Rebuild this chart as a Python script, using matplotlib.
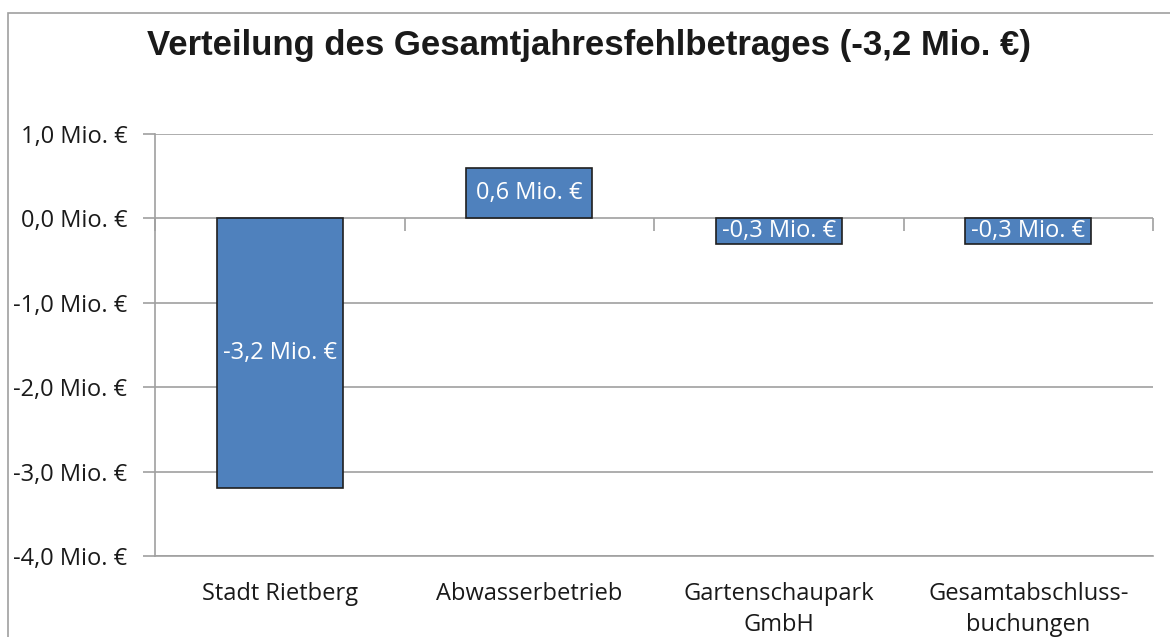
import matplotlib
matplotlib.use("Agg")
import matplotlib.pyplot as plt
from matplotlib.ticker import FuncFormatter, FixedLocator, NullFormatter
from matplotlib.patches import Rectangle

title = "Verteilung des Gesamtjahresfehlbetrages (-3,2 Mio. €)"
categories = ["Stadt Rietberg", "Abwasserbetrieb", "Gartenschaupark\nGmbH", "Gesamtabschluss-\nbuchungen"]
values = [-3.2, 0.6, -0.3, -0.3]
value_labels = ["-3,2 Mio. €", "0,6 Mio. €", "-0,3 Mio. €", "-0,3 Mio. €"]
y_ticks = [1.0, 0.0, -1.0, -2.0, -3.0, -4.0]

YMIN, YMAX = -4.0, 1.0
BAR = "#4F81BD"
GRID = "#A0A0A0"
FONT = "Open Sans"
FS = 17

fig = plt.figure(figsize=(11.7, 6.37), dpi=100)
fig.patch.set_facecolor("white")
# chart border (extends beyond the right / bottom edge)
fig.patches.append(Rectangle((8 / 1170, -0.05), 1.2, 1 - 12.5 / 637 + 0.05,
                             transform=fig.transFigure, fill=False,
                             edgecolor=GRID, linewidth=1.2))

ax = fig.add_axes([155 / 1170, 1 - 556 / 637, (1153 - 155) / 1170, (556 - 134) / 637])
x = list(range(len(categories)))
ax.bar(x, values, width=0.505, color=BAR, edgecolor="#1F1F1F", linewidth=1.2, zorder=3)
ax.set_xlim(-0.5, len(categories) - 0.5)
ax.set_ylim(YMIN, YMAX)

ax.yaxis.set_major_locator(FixedLocator(y_ticks))
ax.yaxis.set_major_formatter(FuncFormatter(lambda v, p: f"{v:.1f}".replace(".", ",") + " Mio. €"))
ax.grid(axis="y", color=GRID, linewidth=1.2, zorder=1)
ax.tick_params(axis="y", direction="out", length=9, width=1.2, color=GRID,
               labelsize=FS, labelcolor="#1a1a1a", pad=11)
for lab in ax.get_yticklabels():
    lab.set_fontfamily(FONT)

ax.set_xticks(x)
ax.set_xticklabels(categories, fontfamily=FONT, fontsize=FS, color="#1a1a1a", linespacing=1.35)
ax.tick_params(axis="x", length=0, pad=19)

for s in ["top", "right"]:
    ax.spines[s].set_visible(False)
for s in ["left", "bottom"]:
    ax.spines[s].set_color(GRID)
    ax.spines[s].set_linewidth(1.2)

# horizontal category axis crossing at zero
loc0 = (0 - YMIN) / (YMAX - YMIN)
sec = ax.secondary_xaxis(loc0)
sec.set_xticks([i - 0.5 for i in range(len(categories) + 1)])
sec.xaxis.set_ticks_position("bottom")
sec.xaxis.set_major_formatter(NullFormatter())
sec.tick_params(direction="out", length=9, width=1.2, color=GRID,
                labelbottom=False, labeltop=False)
sec.spines["bottom"].set_color(GRID)
sec.spines["bottom"].set_linewidth(1.2)
sec.spines["top"].set_visible(False)
sec.set_zorder(4)

for xi, v, t in zip(x, values, value_labels):
    ax.text(xi, v / 2, t, ha="center", va="center", color="white",
            fontsize=FS, fontfamily=FONT, zorder=5)

fig.text(0.503, 1 - 46 / 637, title, ha="center", va="center",
         fontsize=25, fontweight="bold", fontfamily="Liberation Sans", color="#1a1a1a")

fig.savefig("out.png", dpi=100, facecolor="white")
